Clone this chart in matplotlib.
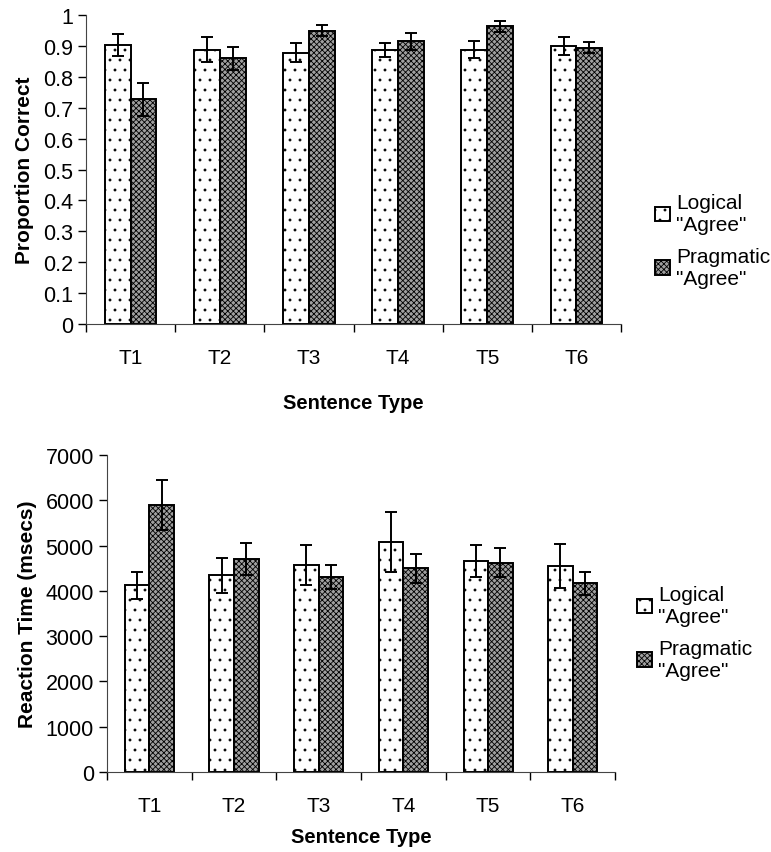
import matplotlib
matplotlib.use("Agg")
import matplotlib.pyplot as plt
import matplotlib.hatch as mhatch
import numpy as np

plt.rcParams['font.family'] = ['Liberation Sans', 'DejaVu Sans']
plt.rcParams['hatch.linewidth'] = 0.6


# sparser small dots for the "." hatch, closer to the original print
class SparseDots(mhatch.Circles):
    size = 0.1
    filled = True

    def __init__(self, hatch, density):
        self.num_rows = hatch.count('.') * 10
        super().__init__(hatch, density)


mhatch._hatch_types = [SparseDots if h is mhatch.SmallFilledCircles else h
                       for h in mhatch._hatch_types]

types = ["T1", "T2", "T3", "T4", "T5", "T6"]

# proportion correct
acc_logical = [0.904, 0.888, 0.879, 0.887, 0.888, 0.900]
acc_logical_err = [0.035, 0.040, 0.030, 0.022, 0.027, 0.029]
acc_pragmatic = [0.728, 0.860, 0.950, 0.915, 0.964, 0.894]
acc_pragmatic_err = [0.054, 0.038, 0.018, 0.027, 0.017, 0.018]

# reaction times (msecs)
rt_logical = [4119, 4340, 4568, 5076, 4665, 4546]
rt_logical_err = [305, 390, 440, 656, 350, 490]
rt_pragmatic = [5894, 4709, 4296, 4501, 4621, 4163]
rt_pragmatic_err = [545, 350, 265, 320, 325, 245]

labels = ['Logical\n"Agree"', 'Pragmatic\n"Agree"']

fig = plt.figure(figsize=(7.71, 8.53), dpi=100)
ax1 = fig.add_axes([0.1115, 0.619, 0.694, 0.362])
ax2 = fig.add_axes([0.1388, 0.0938, 0.659, 0.3716])


def draw(ax, logical, lerr, prag, perr, ylim, yticks, yticklabels, ylabel,
         legend_pos, xlabelpad):
    x = np.arange(len(types))
    w = 0.29
    ekw = dict(ecolor="black", elinewidth=1.4, capthick=1.4)
    ax.bar(x - w / 2, logical, w, yerr=lerr, capsize=4.5, color="white",
           edgecolor="black", linewidth=1.4, hatch=".", error_kw=ekw,
           label=labels[0])
    ax.bar(x + w / 2, prag, w, yerr=perr, capsize=4.5, color="#a0a0a0",
           edgecolor="black", linewidth=1.4, hatch="xxxxxx", error_kw=ekw,
           label=labels[1])
    ax.set_xlim(-0.5, len(types) - 0.5)
    ax.set_ylim(*ylim)
    ax.set_xticks(x)
    ax.set_xticklabels(types, fontsize=15)
    ax.set_xticks(np.arange(-0.5, len(types), 1), minor=True)
    ax.tick_params(axis="x", which="major", length=0, pad=17)
    ax.tick_params(axis="x", which="minor", length=6, direction="out", width=1)
    ax.set_yticks(yticks)
    ax.set_yticklabels(yticklabels, fontsize=15.5)
    ax.tick_params(axis="y", length=6, direction="out", width=1)
    ax.spines["top"].set_visible(False)
    ax.spines["right"].set_visible(False)
    ax.spines["left"].set_color("#444444")
    ax.spines["bottom"].set_color("#444444")
    ax.set_xlabel("Sentence Type", fontsize=14.5, fontweight="bold", labelpad=xlabelpad)
    ax.set_ylabel(ylabel, fontsize=15, fontweight="bold", labelpad=6)
    ax.legend(loc="center left", bbox_to_anchor=legend_pos, frameon=False,
              fontsize=15, handlelength=0.7, handleheight=0.7, handletextpad=0.3,
              labelspacing=0.6, borderaxespad=0)


draw(ax1, acc_logical, acc_logical_err, acc_pragmatic, acc_pragmatic_err,
     (0, 1), np.arange(0, 1.01, 0.1),
     ["0"] + ["%.1f" % v for v in np.arange(0.1, 0.95, 0.1)] + ["1"],
     "Proportion Correct", (1.048, 0.27), 19)
draw(ax2, rt_logical, rt_logical_err, rt_pragmatic, rt_pragmatic_err,
     (0, 7000), np.arange(0, 7001, 1000),
     [str(v) for v in range(0, 7001, 1000)],
     "Reaction Time (msecs)", (1.027, 0.44), 9)

fig.savefig("out.png", dpi=100)
